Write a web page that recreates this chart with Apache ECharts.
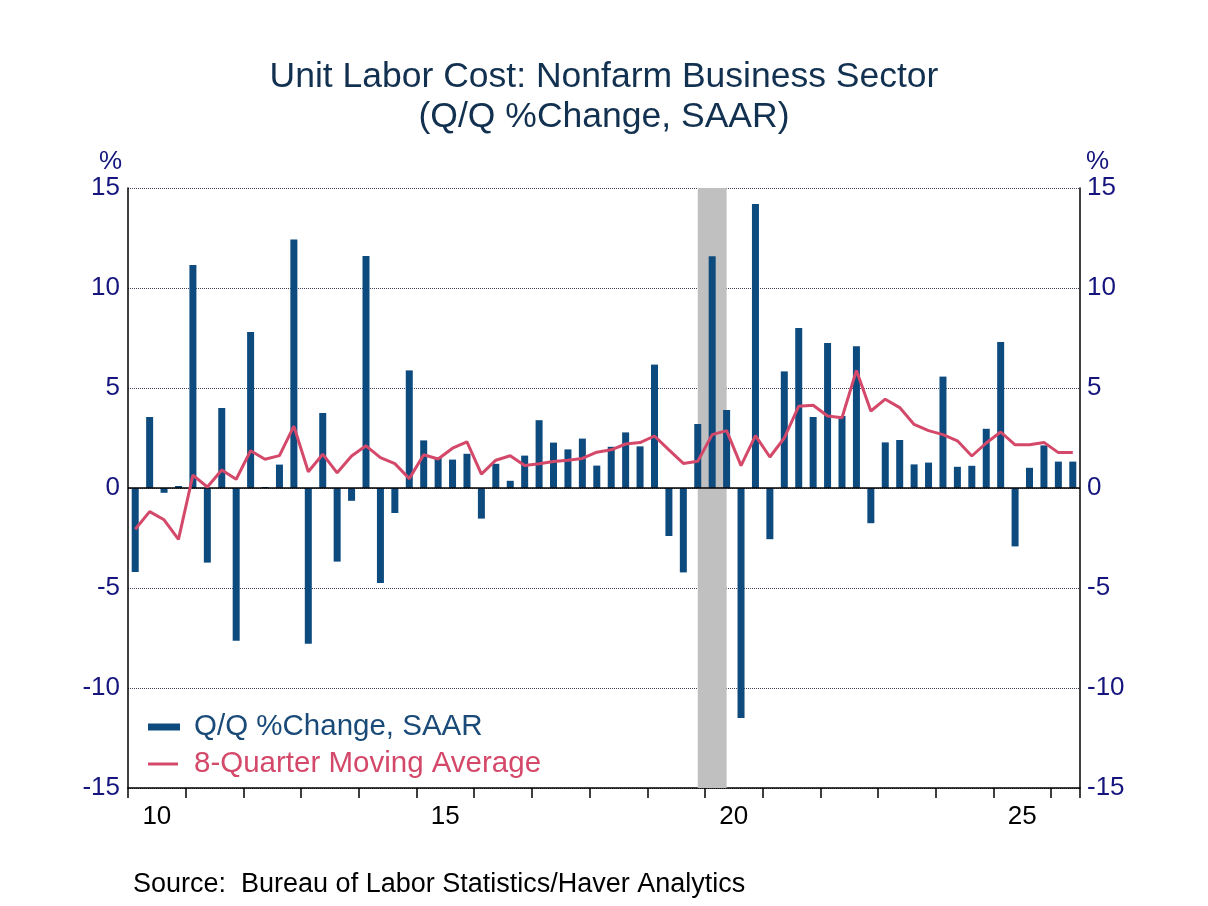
<!DOCTYPE html>
<html>
<head>
<meta charset="utf-8">
<title>Unit Labor Cost: Nonfarm Business Sector</title>
<script src="https://cdn.jsdelivr.net/npm/echarts@6/dist/echarts.min.js"></script>
<style>
  html, body { margin: 0; padding: 0; background: #ffffff; }
  #main { width: 1208px; height: 906px; }
</style>
</head>
<body>
<div id="main"></div>
<script>
// quarters 2010Q1 .. 2026Q2
var firstYear = 2010;
var quarterCount = 66;
var categories = [];
for (var i = 0; i < quarterCount; i++) {
    categories.push((firstYear + Math.floor(i / 4)) + 'Q' + (i % 4 + 1));
}

// Q/Q %Change, SAAR
var qoqChange = [
    -4.2, 3.55, -0.24, 0.1,
    11.15, -3.73, 4.0, -7.64,
    7.8, 0.05, 1.17, 12.42,
    -7.79, 3.75, -3.68, -0.64,
    11.6, -4.75, -1.25, 5.88,
    2.38, 1.52, 1.42, 1.71,
    -1.53, 1.21, 0.36, 1.62,
    3.39, 2.27, 1.93, 2.47,
    1.12, 2.06, 2.78, 2.08,
    6.17, -2.4, -4.22, 3.2,
    11.59, 3.9, -11.5, 14.2,
    -2.56, 5.83, 8.0, 3.55,
    7.25, 3.6, 7.09, -1.76,
    2.28, 2.4, 1.18, 1.27,
    5.57, 1.06, 1.11, 2.96,
    7.3, -2.92, 1.01, 2.13,
    1.32, 1.32
];

// 8-Quarter Moving Average
var movingAvg = [
    -2.06, -1.18, -1.59, -2.57,
    0.64, 0.05, 0.9, 0.44,
    1.86, 1.44, 1.62, 3.09,
    0.81, 1.69, 0.76, 1.6,
    2.11, 1.52, 1.22, 0.47,
    1.66, 1.45, 1.99, 2.31,
    0.69, 1.39, 1.61, 1.12,
    1.21, 1.32, 1.39, 1.48,
    1.79, 1.91, 2.2, 2.27,
    2.6, 1.91, 1.23, 1.34,
    2.67, 2.87, 1.12, 2.62,
    1.55, 2.5, 4.09, 4.14,
    3.6, 3.51, 5.88, 3.85,
    4.44, 4.02, 3.18, 2.87,
    2.67, 2.36, 1.6, 2.25,
    2.8, 2.16, 2.16, 2.28,
    1.77, 1.77
];

// recession shading, peak to trough quarter
var recession = ['2019Q4', '2020Q2'];
var yTicks = { min: -15, max: 15, interval: 5 };

var barColor = '#0d4a7e';
var lineColor = '#d4486a';
var axisTextColor = '#15157d';
var fontFamily = 'Liberation Sans, Arial, sans-serif';

// shading goes from the middle of one quarter to the middle of the other
var recStart = categories.indexOf(recession[0]) + 0.5;
var recEnd = categories.indexOf(recession[1]) + 0.5;

function yearLabel(index) {
    var year = firstYear + Math.floor(index / 4);
    return index % 4 === 1 && year % 5 === 0;
}

var option = {
    backgroundColor: '#ffffff',
    animation: false,
    textStyle: { fontFamily: fontFamily },
    title: {
        text: 'Unit Labor Cost: Nonfarm Business Sector\n(Q/Q %Change, SAAR)',
        left: 'center',
        top: 52,
        textStyle: {
            color: '#12304f',
            fontSize: 35.5,
            fontWeight: 'normal',
            lineHeight: 40,
            fontFamily: fontFamily
        }
    },
    legend: [{
        data: [{ name: 'Q/Q %Change, SAAR', icon: 'rect' }],
        left: 143,
        top: 707,
        itemWidth: 32,
        itemHeight: 7,
        textStyle: { color: '#1a4a78', fontSize: 29.5, padding: [0, 0, 0, 9] }
    }, {
        data: [{ name: '8-Quarter Moving Average', icon: 'rect' }],
        left: 143,
        top: 744,
        itemWidth: 30,
        itemHeight: 3,
        textStyle: { color: lineColor, fontSize: 29.5, padding: [0, 0, 0, 11] }
    }],
    graphic: [{
        type: 'text',
        left: 133,
        top: 871,
        style: {
            text: 'Source:  Bureau of Labor Statistics/Haver Analytics',
            fill: '#000000',
            fontSize: 27,
            fontFamily: fontFamily
        }
    }],
    grid: {
        left: 128,
        right: 128,
        top: 188,
        bottom: 118
    },
    xAxis: [{
        type: 'category',
        data: categories,
        boundaryGap: true,
        axisLine: { onZero: false, lineStyle: { color: '#000000', width: 1.5 } },
        axisTick: {
            show: true,
            inside: false,
            alignWithLabel: false,
            interval: function (index) { return index % 4 === 0; },
            length: 10,
            lineStyle: { color: '#000000', width: 1.5 }
        },
        axisLabel: {
            interval: function (index) { return yearLabel(index); },
            formatter: function (value) { return value.slice(2, 4); },
            color: '#000000',
            fontSize: 26,
            margin: 16,
            padding: [0, 0, 0, 14.4]
        },
        splitLine: { show: false }
    }, {
        // same span as the categories, used only to place the shading
        type: 'value',
        min: 0,
        max: quarterCount,
        show: false
    }],
    yAxis: [{
        type: 'value',
        position: 'left',
        min: yTicks.min,
        max: yTicks.max,
        interval: yTicks.interval,
        name: '%',
        nameLocation: 'end',
        nameGap: 4,
        nameTextStyle: { color: axisTextColor, fontSize: 26, align: 'right', padding: [0, 6, 0, 0] },
        axisLine: { show: true, lineStyle: { color: '#000000', width: 1.5 } },
        axisTick: { show: false },
        axisLabel: { color: axisTextColor, fontSize: 26, margin: 8 },
        splitLine: { show: true, lineStyle: { color: '#44445a', type: 'dotted', width: 1 } }
    }, {
        type: 'value',
        position: 'right',
        min: yTicks.min,
        max: yTicks.max,
        interval: yTicks.interval,
        name: '%',
        nameLocation: 'end',
        nameGap: 4,
        nameTextStyle: { color: axisTextColor, fontSize: 26, align: 'left', padding: [0, 0, 0, 6] },
        axisLine: { show: true, lineStyle: { color: '#000000', width: 1.5 } },
        axisTick: { show: false },
        axisLabel: { color: axisTextColor, fontSize: 26, margin: 7 },
        splitLine: { show: false }
    }],
    series: [{
        name: 'recession',
        type: 'line',
        xAxisIndex: 1,
        yAxisIndex: 0,
        data: [],
        symbol: 'none',
        silent: true,
        markArea: {
            silent: true,
            itemStyle: { color: '#c0c0c0' },
            data: [[{ xAxis: recStart }, { xAxis: recEnd }]]
        },
        z: 1
    }, {
        name: 'Q/Q %Change, SAAR',
        type: 'bar',
        data: qoqChange,
        barWidth: 7,
        itemStyle: { color: barColor },
        markLine: {
            silent: true,
            symbol: ['none', 'none'],
            label: { show: false },
            lineStyle: { color: '#000000', type: 'solid', width: 1.5 },
            data: [{ yAxis: 0 }]
        },
        z: 3
    }, {
        name: '8-Quarter Moving Average',
        type: 'line',
        data: movingAvg,
        symbol: 'none',
        lineStyle: { color: lineColor, width: 3 },
        itemStyle: { color: lineColor },
        z: 5
    }]
};

var myChart = echarts.init(document.getElementById('main'));
myChart.setOption(option);
</script>
</body>
</html>
